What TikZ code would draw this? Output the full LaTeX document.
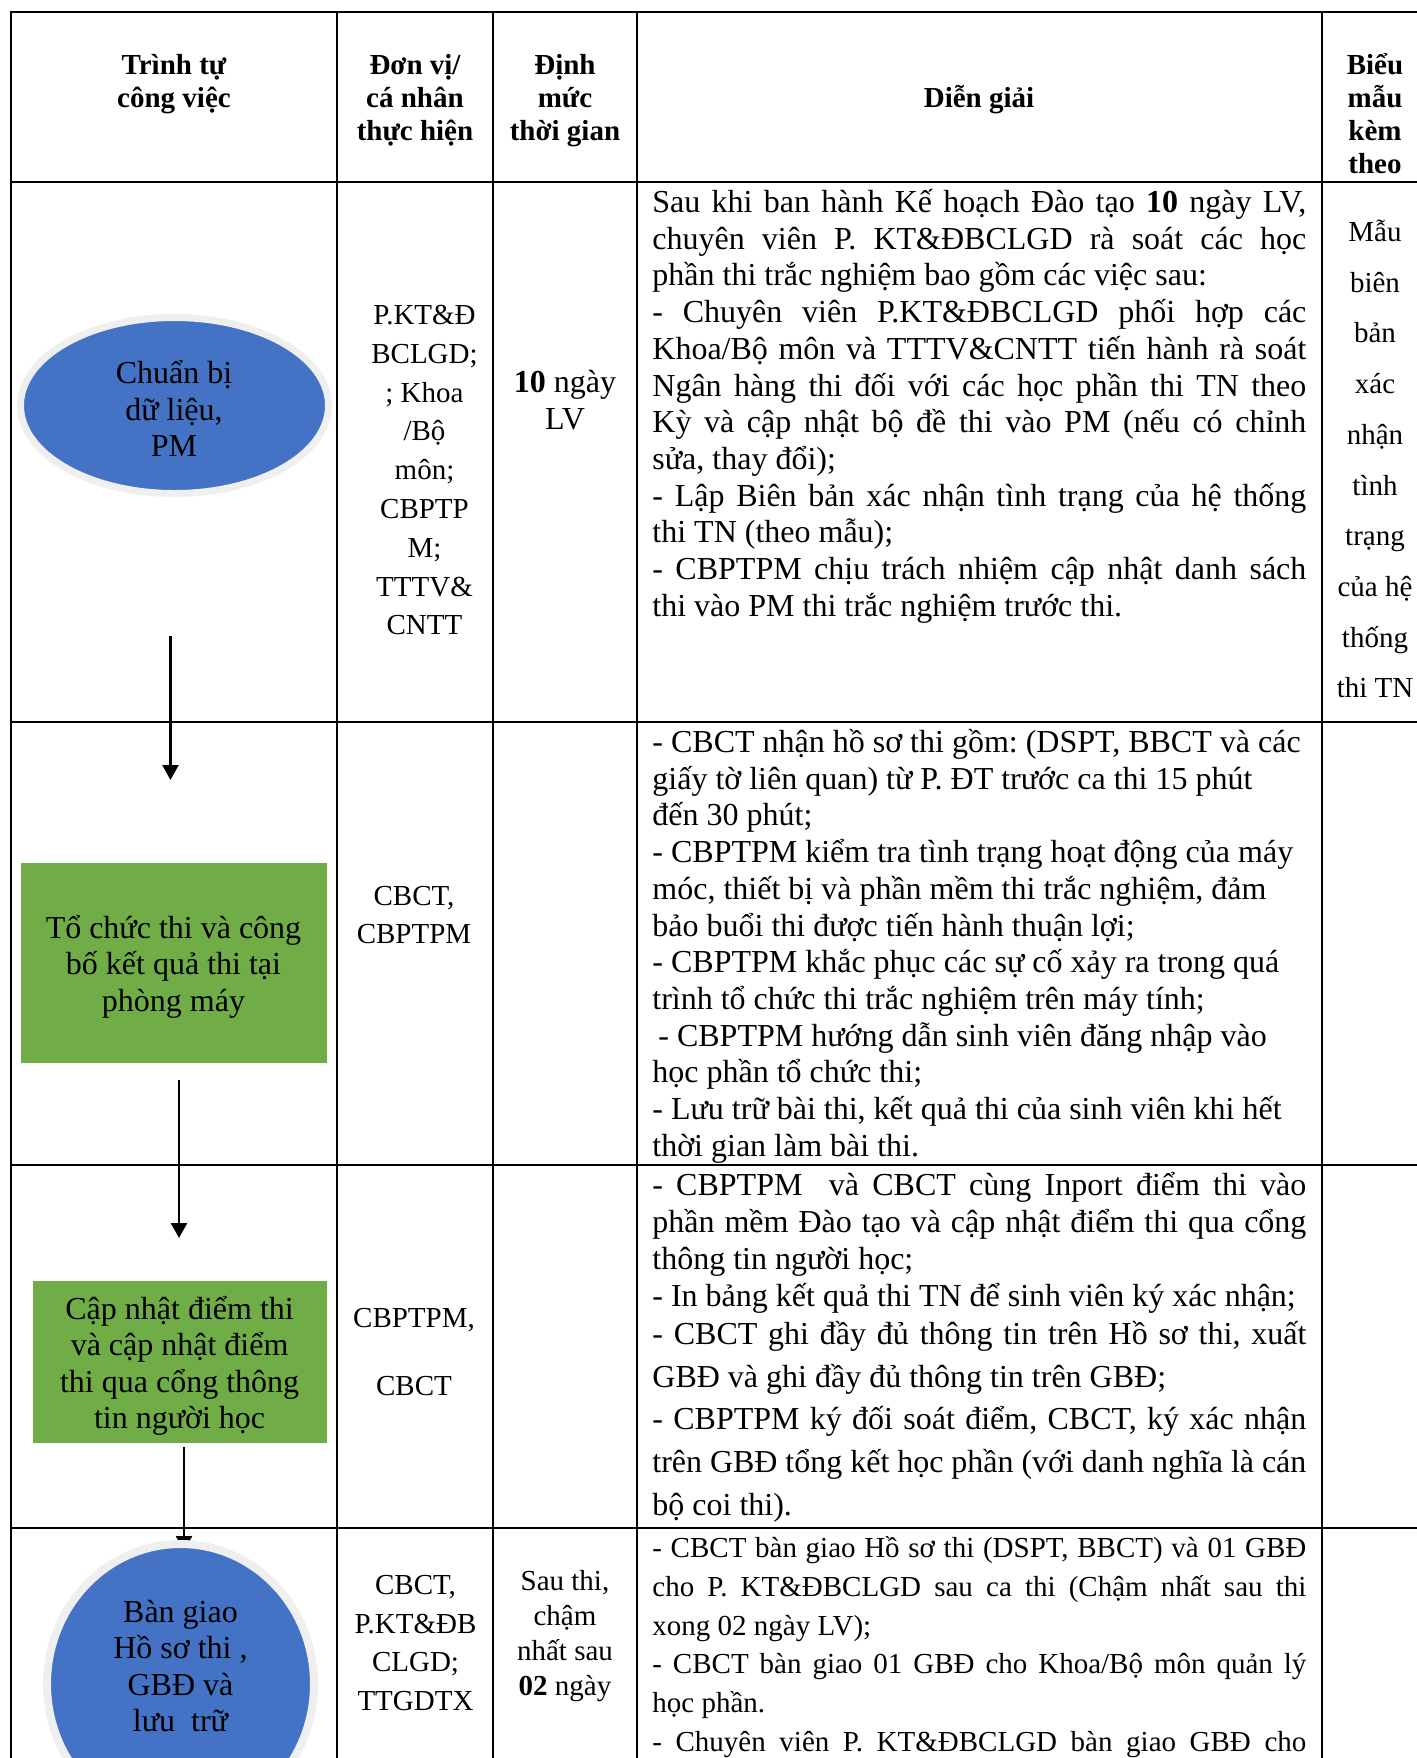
\documentclass[tikz,border=0pt]{standalone}
\usepackage{fontspec}
\setmainfont{Liberation Serif}
\frenchspacing
\usetikzlibrary{shapes.geometric,arrows.meta}
\definecolor{ellblue}{HTML}{4472C4}
\definecolor{boxgreen}{HTML}{70AD47}
\definecolor{ringgray}{HTML}{EFEFEF}
\newlength{\dgw}\setlength{\dgw}{327pt}
\newcommand{\jl}[1]{\makebox[\dgw][s]{#1}}
\begin{document}
\frenchspacing
\begin{tikzpicture}[x=0.5pt,y=-0.5pt,
  rule/.style={line width=1.3pt,line cap=rect},
  flow/.style={line width=1.2pt,-{Triangle[width=8pt,length=7.5pt]}},
  dg/.style={inner sep=0pt,text width=\dgw,align=flush left,anchor=base west},
  tcell/.style={inner sep=0pt,align=flush center,anchor=base},
  hdr/.style={tcell,font=\bfseries\fontsize{14.5}{16.5}\selectfont},
  shapetxt/.style={tcell,font=\fontsize{16}{18.3}\selectfont},
  ell/.style={ellipse,draw=ringgray,line width=3.5pt,fill=ellblue,inner sep=0pt},
  gbox/.style={rectangle,fill=boxgreen,inner sep=0pt}]
\useasboundingbox (0,0) rectangle (1417,1758);
\clip (0,0) rectangle (1417,1758);
\fill[white] (0,0) rectangle (1417,1758);

% flow shapes
\node[ell,minimum width=154pt,minimum height=88pt] (e1) at (174.5,405.5) {};
\node[shapetxt,text width=130pt] (e1t) at (174,383.5) {Chuẩn bị\\dữ liệu,\\PM};
\node[gbox,minimum width=153pt,minimum height=99.7pt] (r1) at (173.5,963) {};
\node[shapetxt,text width=145pt] (r1t) at (173.5,938) {Tổ chức thi và công\\bố kết quả thi tại\\phòng máy};
\node[gbox,minimum width=147pt,minimum height=81.2pt] (r2) at (179.6,1362) {};
\node[shapetxt,text width=140pt] (r2t) at (179.6,1319) {Cập nhật điểm thi\\và cập nhật điểm\\thi qua cổng thông\\tin người học};

% connectors
\coordinate (a1s) at (170.5,636);
\coordinate (a1e) at (170.5,780);
\coordinate (a2s) at (179,1080);
\coordinate (a2e) at (179,1238);
\coordinate (a3s) at (184,1447);
\coordinate (a3e) at (184,1551);
\draw[flow] (a1s) -- (a1e);
\draw[flow] (a2s) -- (a2e);
\draw[flow] (a3s) -- (a3e);

\node[ell,line width=4pt,minimum width=133.5pt,minimum height=140pt] (e2) at (180.5,1684) {};
\node[shapetxt,text width=110pt] (e2t) at (180.5,1622) {Bàn giao\\Hồ sơ thi ,\\GBĐ và\\lưu\ \ trữ};

% table grid
\foreach \yy in {12,182,722,1165,1528} \draw[rule] (11,\yy) -- (1450,\yy);
\foreach \xx in {11,337,493,637,1322} \draw[rule] (\xx,12) -- (\xx,1780);

% header
\node[hdr,text width=140pt] (h1) at (174,74) {Trình tự\\công việc};
\node[hdr,text width=75pt] (h2) at (415,74) {Đơn vị/\\cá nhân\\thực hiện};
\node[hdr,text width=70pt] (h3) at (565,74) {Định\\mức\\thời gian};
\node[hdr,text width=300pt] (h4) at (979,107) {Diễn giải};
\node[hdr,text width=50pt] (h5) at (1375,74) {Biểu\\mẫu\\kèm\\theo};

% column 2
\node[tcell,text width=70pt,font=\fontsize{14.5}{19.4}\selectfont] (c21) at (424.5,324.5) {P.KT\&Đ\\BCLGD;\\; Khoa\\/Bộ\\môn;\\CBPTP\\M;\\TTTV\&\\CNTT};
\node[tcell,text width=70pt,font=\fontsize{14.5}{19}\selectfont] (c22) at (414,905.5) {CBCT,\\CBPTPM};
\node[tcell,text width=70pt,font=\fontsize{14.5}{34}\selectfont] (c23) at (414,1327.5) {CBPTPM,\\CBCT};
\node[tcell,text width=70pt,font=\fontsize{14.5}{19.3}\selectfont] (c24) at (415.5,1594.5) {CBCT,\\P.KT\&ĐB\\CLGD;\\TTGDTX};

% column 3
\node[tcell,text width=65pt,font=\fontsize{16}{18.5}\selectfont] (c31) at (565,392.5) {\textbf{10} ngày\\LV};
\node[tcell,text width=65pt,font=\fontsize{14.5}{17.5}\selectfont] (c34) at (565,1590.5) {Sau thi,\\chậm\\nhất sau\\\textbf{02} ngày};

% column 5
\node[tcell,text width=52pt,font=\fontsize{14.5}{25.35}\selectfont] (c51) at (1375,241.5) {Mẫu\\biên\\bản\\xác\\nhận\\tình\\trạng\\của hệ\\thống\\thi TN};

% column 4
\node[dg,font=\fontsize{16}{18.35}\selectfont] (d1) at (652,212.5) {%
\jl{Sau khi ban hành Kế hoạch Đào tạo \textbf{10} ngày LV,}\\
\jl{chuyên viên P. KT\&ĐBCLGD rà soát các học}\\
phần thi trắc nghiệm bao gồm các việc sau:\\
\jl{- Chuyên viên P.KT\&ĐBCLGD phối hợp các}\\
\jl{Khoa/Bộ môn và TTTV\&CNTT tiến hành rà soát}\\
\jl{Ngân hàng thi đối với các học phần thi TN theo}\\
\jl{Kỳ và cập nhật bộ đề thi vào PM (nếu có chỉnh}\\
sửa, thay đổi);\\
\jl{- Lập Biên bản xác nhận tình trạng của hệ thống}\\
thi TN (theo mẫu);\\
\jl{- CBPTPM chịu trách nhiệm cập nhật danh sách}\\
thi vào PM thi trắc nghiệm trước thi.};

\node[dg,font=\fontsize{16}{18.35}\selectfont] (d2) at (652,752.5) {%
\mbox{- CBCT nhận hồ sơ thi gồm: (DSPT, BBCT và các}\\
\mbox{giấy tờ liên quan) từ P. ĐT trước ca thi 15 phút}\\
đến 30 phút;\\
\mbox{- CBPTPM kiểm tra tình trạng hoạt động của máy}\\
\mbox{móc, thiết bị và phần mềm thi trắc nghiệm, đảm}\\
\mbox{bảo buổi thi được tiến hành thuận lợi;}\\
\mbox{- CBPTPM khắc phục các sự cố xảy ra trong quá}\\
\mbox{trình tổ chức thi trắc nghiệm trên máy tính;}\\
\mbox{\hspace{3pt}- CBPTPM hướng dẫn sinh viên đăng nhập vào}\\
học phần tổ chức thi;\\
\mbox{- Lưu trữ bài thi, kết quả thi của sinh viên khi hết}\\
thời gian làm bài thi.};

\node[dg,font=\fontsize{16}{18.5}\selectfont] (d3) at (652,1195.5) {%
\jl{- CBPTPM\ \ và CBCT cùng Inport điểm thi vào}\\
\jl{phần mềm Đào tạo và cập nhật điểm thi qua cổng}\\
thông tin người học;\\
\mbox{- In bảng kết quả thi TN để sinh viên ký xác nhận;}\\[0.55pt]
\jl{- CBCT ghi đầy đủ thông tin trên Hồ sơ thi, xuất}\\[2.8pt]
GBĐ và ghi đầy đủ thông tin trên GBĐ;\\[2.8pt]
\jl{- CBPTPM ký đối soát điểm, CBCT, ký xác nhận}\\[2.8pt]
\jl{trên GBĐ tổng kết học phần (với danh nghĩa là cán}\\[2.8pt]
bộ coi thi).};

\node[dg,font=\fontsize{14.5}{19.4}\selectfont] (d4) at (652,1557.5) {%
\jl{- CBCT bàn giao Hồ sơ thi (DSPT, BBCT) và 01 GBĐ}\\
\jl{cho P. KT\&ĐBCLGD sau ca thi (Chậm nhất sau thi}\\
xong 02 ngày LV);\\
\jl{- CBCT bàn giao 01 GBĐ cho Khoa/Bộ môn quản lý}\\
học phần.\\
\jl{- Chuyên viên P. KT\&ĐBCLGD bàn giao GBĐ cho}};
\end{tikzpicture}
\end{document}
